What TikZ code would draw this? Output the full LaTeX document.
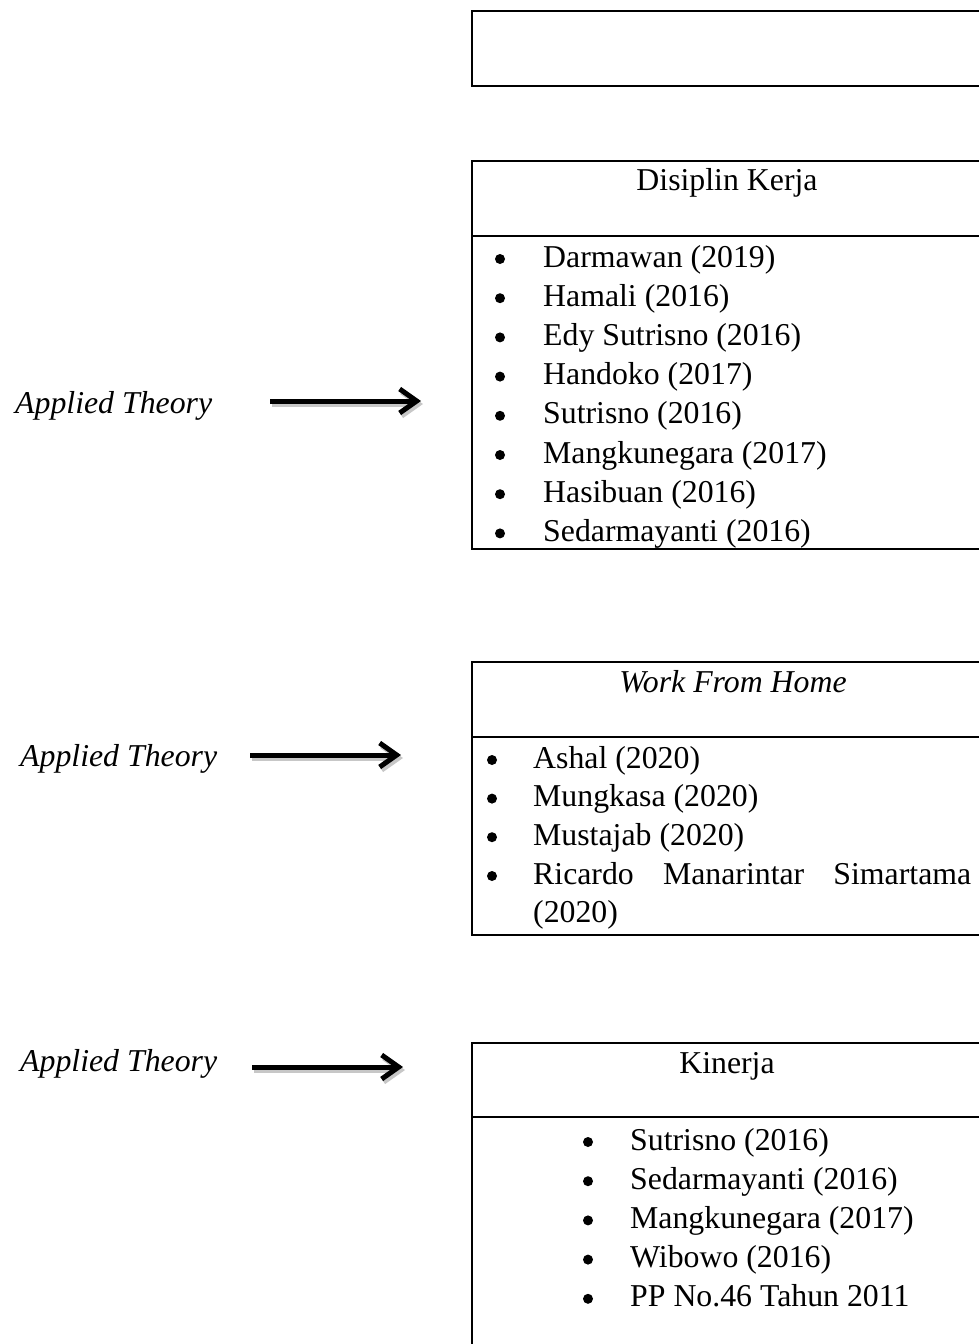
\documentclass[tikz,border=0pt]{standalone}
\usepackage{fontspec}
\setmainfont{Liberation Serif}
\usetikzlibrary{arrows.meta}
\begin{document}
\begin{tikzpicture}[x=1pt,y=-1pt,
  fnt/.style={font=\fontsize{31.8}{39}\selectfont},
  txt/.style={fnt, inner sep=0pt, anchor=base west},
  ttl/.style={fnt, inner sep=0pt, anchor=base},
  bul/.style={circle, fill=black, inner sep=0pt, minimum size=10pt},
  frame/.style={draw, line width=1.6pt, anchor=north west, inner sep=0pt},
  arr/.style={line width=5pt, -{Straight Barb[length=17pt,width=24pt,line width=5pt]}},
  shd/.style={arr, draw=black!22}]
\useasboundingbox (0,0) rectangle (978,1344);
% boxes
\node[frame, line width=2.2pt, minimum width=540pt, minimum height=75pt] (b1) at (471,10) {};
\node[frame, minimum width=540pt, minimum height=388pt] (b2) at (471,160) {};
\node[frame, minimum width=540pt, minimum height=273pt] (b3) at (471,661) {};
\node[frame, minimum width=540pt, minimum height=330pt] (b4) at (471,1042) {};
\coordinate (d2a) at (471,236); \coordinate (d2b) at (1011,236);
\coordinate (d3a) at (471,737); \coordinate (d3b) at (1011,737);
\coordinate (d4a) at (471,1117); \coordinate (d4b) at (1011,1117);
\draw[line width=1.6pt] (d2a) -- (d2b);
\draw[line width=1.6pt] (d3a) -- (d3b);
\draw[line width=1.6pt] (d4a) -- (d4b);
% box 2
\node[ttl] (t2) at (727,190) {Disiplin Kerja};
\foreach \i/\t in {0/Darmawan (2019),1/Hamali (2016),2/Edy Sutrisno (2016),3/Handoko (2017),4/Sutrisno (2016),5/Mangkunegara (2017),6/Hasibuan (2016),7/Sedarmayanti (2016)}{
  \node[bul] (p2b\i) at (500,267+39.2*\i-8) {};
  \node[txt] (p2t\i) at (543,267+39.2*\i) {\t};
}
% box 3
\node[ttl] (t3) at (733,692) {\itshape Work From Home};
\foreach \i/\t in {0/Ashal (2020),1/Mungkasa (2020),2/Mustajab (2020)}{
  \node[bul] (p3b\i) at (492,768+38.6*\i-8) {};
  \node[txt] (p3t\i) at (533,768+38.6*\i) {\t};
}
\node[bul] (p3b3) at (492,884-8) {};
\node[txt] (p3t3) at (533,884) {\makebox[438pt][s]{Ricardo Manarintar Simartama}};
\node[txt] (p3t4) at (533,922) {(2020)};
% box 4
\node[ttl] (t4) at (727,1073) {Kinerja};
\foreach \i/\t in {0/Sutrisno (2016),1/Sedarmayanti (2016),2/Mangkunegara (2017),3/Wibowo (2016),4/PP No.46 Tahun 2011}{
  \node[bul] (p4b\i) at (588,1150+39.2*\i-8) {};
  \node[txt] (p4t\i) at (630,1150+39.2*\i) {\t};
}
% labels
\node[txt] (l1) at (15,413) {\itshape Applied Theory};
\node[txt] (l2) at (20,766) {\itshape Applied Theory};
\node[txt] (l3) at (20,1071) {\itshape Applied Theory};
% arrows
\coordinate (a1s) at (270,401); \coordinate (a1e) at (421,401);
\coordinate (a2s) at (250,755); \coordinate (a2e) at (401,755);
\coordinate (a3s) at (252,1067); \coordinate (a3e) at (403,1067);
\coordinate (s1s) at (272,404); \coordinate (s1e) at (423,404);
\coordinate (s2s) at (252,758); \coordinate (s2e) at (403,758);
\coordinate (s3s) at (254,1070); \coordinate (s3e) at (405,1070);
\draw[shd] (s1s) -- (s1e);
\draw[shd] (s2s) -- (s2e);
\draw[shd] (s3s) -- (s3e);
\draw[arr] (a1s) -- (a1e);
\draw[arr] (a2s) -- (a2e);
\draw[arr] (a3s) -- (a3e);
\end{tikzpicture}
\end{document}
